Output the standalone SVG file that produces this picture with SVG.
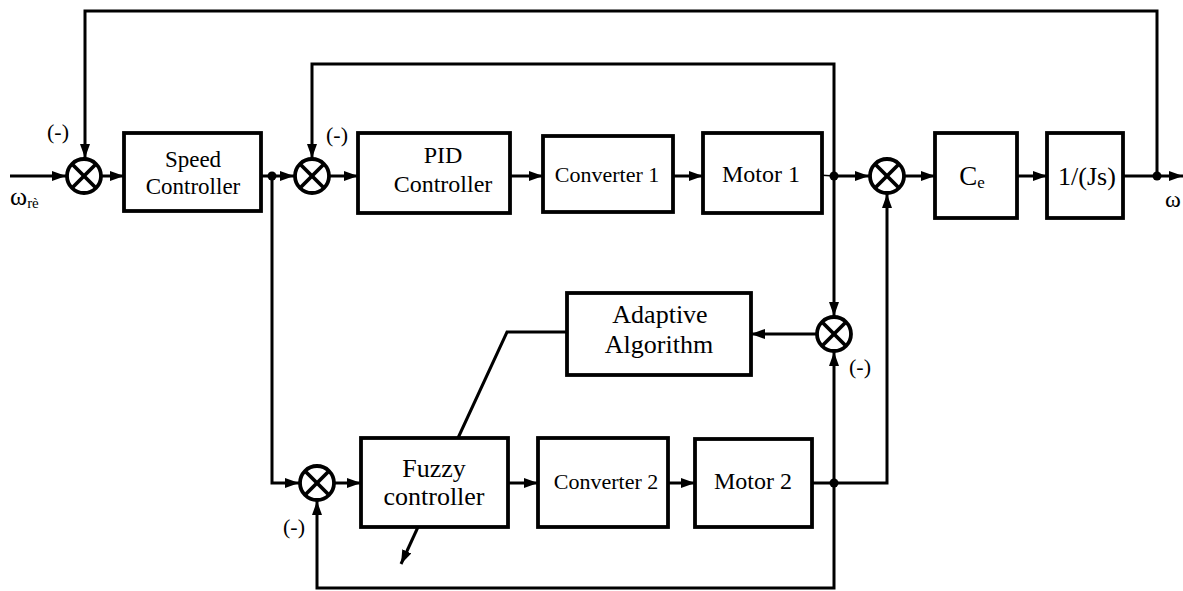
<svg xmlns="http://www.w3.org/2000/svg" width="1183" height="591" viewBox="0 0 1183 591" font-family="'Liberation Serif', 'Times New Roman', 'DejaVu Serif', serif">
<defs>
<marker id="ah" markerUnits="userSpaceOnUse" markerWidth="15" markerHeight="12" refX="14" refY="5" orient="auto">
<path d="M0,0 L14,5 L0,10 z" fill="#000"/>
</marker>
<style>
.box{fill:#fff;stroke:#000;stroke-width:3.8}
.sum{fill:#fff;stroke:#000;stroke-width:3.8}
.x{stroke:#000;stroke-width:3.8}
.ln{fill:none;stroke:#000;stroke-width:3}
.thin{fill:none;stroke:#000;stroke-width:1.5}
.arr{fill:none;stroke:#000;stroke-width:3;marker-end:url(#ah)}
.dot{fill:#000}
.t{font-family:'Liberation Serif','Times New Roman','DejaVu Serif',serif;fill:#000}
.c{text-anchor:middle}
</style>
</defs>
<rect width="1183" height="591" fill="#fff"/>
<g id="connectors">
<line class="arr" x1="10" y1="176" x2="66" y2="176"/>
<line class="arr" x1="101" y1="176" x2="124" y2="176"/>
<line class="arr" x1="261" y1="176" x2="294" y2="176"/>
<polyline class="arr" points="272,176 272,483 299,483"/>
<line class="arr" x1="329" y1="176" x2="358" y2="176"/>
<line class="arr" x1="510" y1="176" x2="543" y2="176"/>
<line class="arr" x1="673" y1="176" x2="703" y2="176"/>
<line class="thin" x1="803" y1="174" x2="834" y2="176"/>
<line class="arr" x1="834" y1="176" x2="869" y2="176"/>
<line class="arr" x1="904" y1="176" x2="935" y2="176"/>
<line class="arr" x1="1017" y1="176" x2="1047" y2="176"/>
<line class="arr" x1="1123" y1="176" x2="1183" y2="176"/>
<polyline class="arr" points="1157,176 1157,11 85,11 85,158"/>
<polyline class="arr" points="834,176 834,64 312,64 312,158"/>
<line class="arr" x1="834" y1="176" x2="834" y2="316"/>
<line class="arr" x1="816" y1="334" x2="751" y2="334"/>
<polyline class="ln" points="567,332 507,332 458,438"/>
<line class="arr" x1="418" y1="527" x2="401" y2="564"/>
<line class="arr" x1="335" y1="483" x2="361" y2="483"/>
<line class="arr" x1="508" y1="483" x2="538" y2="483"/>
<line class="arr" x1="668" y1="483" x2="695" y2="483"/>
<polyline class="arr" points="812,483 887,483 887,194"/>
<line class="arr" x1="834" y1="483" x2="834" y2="352"/>
<polyline class="arr" points="834,483 834,588 317,588 317,501"/>
<circle class="dot" cx="272" cy="176" r="4.5"/>
<circle class="dot" cx="834" cy="176" r="4.5"/>
<circle class="dot" cx="1157" cy="176" r="4.5"/>
<circle class="dot" cx="834" cy="483" r="4.5"/>
</g>
<g id="sum1"><circle class="sum" cx="84" cy="176" r="17"/><line class="x" x1="72" y1="164" x2="96" y2="188"/><line class="x" x1="96" y1="164" x2="72" y2="188"/></g>
<g id="sum2"><circle class="sum" cx="312" cy="176" r="17"/><line class="x" x1="300" y1="164" x2="324" y2="188"/><line class="x" x1="324" y1="164" x2="300" y2="188"/></g>
<g id="sum3"><circle class="sum" cx="887" cy="176" r="17"/><line class="x" x1="875" y1="164" x2="899" y2="188"/><line class="x" x1="899" y1="164" x2="875" y2="188"/></g>
<g id="sum4"><circle class="sum" cx="834" cy="334" r="17"/><line class="x" x1="822" y1="322" x2="846" y2="346"/><line class="x" x1="846" y1="322" x2="822" y2="346"/></g>
<g id="sum5"><circle class="sum" cx="317" cy="483" r="17"/><line class="x" x1="305" y1="471" x2="329" y2="495"/><line class="x" x1="329" y1="471" x2="305" y2="495"/></g>
<g id="speed"><rect class="box" x="124" y="133" width="137" height="78"/><text class="t c" x="193" y="167" font-size="23">Speed</text><text class="t c" x="193" y="194" font-size="23">Controller</text></g>
<g id="pid"><rect class="box" x="358" y="133" width="152" height="80"/><text class="t c" x="443" y="163" font-size="24">PID</text><text class="t c" x="443" y="192" font-size="24">Controller</text></g>
<g id="conv1"><rect class="box" x="543" y="136" width="130" height="76"/><text class="t c" x="607" y="182" font-size="22">Converter 1</text></g>
<g id="motor1"><rect class="box" x="703" y="133" width="119" height="80"/><text class="t c" x="761" y="182" font-size="24">Motor 1</text></g>
<g id="ce"><rect class="box" x="935" y="133" width="82" height="85"/><text class="t c" x="972" y="185" font-size="27">C<tspan font-size="17" dy="3">e</tspan></text></g>
<g id="js"><rect class="box" x="1047" y="133" width="76" height="85"/><text class="t c" x="1087" y="185" font-size="26">1/(Js)</text></g>
<g id="adaptive"><rect class="box" x="567" y="293" width="184" height="82"/><text class="t c" x="660" y="323" font-size="26">Adaptive</text><text class="t c" x="659" y="353" font-size="26">Algorithm</text></g>
<g id="fuzzy"><rect class="box" x="361" y="438" width="147" height="89"/><text class="t c" x="434" y="477" font-size="26">Fuzzy</text><text class="t c" x="434" y="505" font-size="26">controller</text></g>
<g id="conv2"><rect class="box" x="538" y="438" width="130" height="89"/><text class="t c" x="606" y="489" font-size="22">Converter 2</text></g>
<g id="motor2"><rect class="box" x="695" y="439" width="117" height="88"/><text class="t c" x="753" y="489" font-size="24">Motor 2</text></g>
<g id="labels">
<text class="t" x="10" y="205" font-size="26">ω<tspan font-size="15" dy="3">rè</tspan></text>
<text class="t" x="1165" y="207" font-size="24">ω</text>
<text class="t c" x="58" y="139" font-size="22">(-)</text>
<text class="t c" x="337" y="142" font-size="22">(-)</text>
<text class="t c" x="860" y="374" font-size="22">(-)</text>
<text class="t c" x="294" y="534" font-size="22">(-)</text>
</g>
</svg>
